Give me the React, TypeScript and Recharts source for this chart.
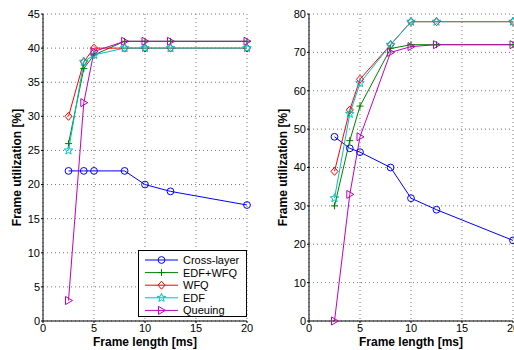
import { LineChart, Line, XAxis, YAxis, CartesianGrid } from 'recharts';

const frameLength = [2.5, 4, 5, 8, 10, 12.5, 20];

// left panel
const crossLayerA = [22, 22, 22, 22, 20, 19, 17];
const edfWfqA = [26, 37, 39, 41, 41, 41, 41];
const wfqA = [30, 38, 40, 40, 40, 40, 40];
const edfA = [25, 38, 39, 40, 40, 40, 40];
const queuingA = [3, 32, 39.5, 41, 41, 41, 41];

// right panel
const crossLayerB = [48, 45, 44, 40, 32, 29, 21];
const edfWfqB = [30, 47, 56, 71, 72, 72, 72];
const wfqB = [39, 55, 63, 72, 78, 78, 78];
const edfB = [32, 54, 62, 72, 78, 78, 78];
const queuingB = [0, 33, 48, 70, 71.5, 72, 72];

const xTicks = [0, 5, 10, 15, 20];
const yTicksA = [0, 5, 10, 15, 20, 25, 30, 35, 40, 45];
const yTicksB = [0, 10, 20, 30, 40, 50, 60, 70, 80];

const seriesNames = ['Cross-layer', 'EDF+WFQ', 'WFQ', 'EDF', 'Queuing'];
const seriesKeys = ['cross', 'edfWfq', 'wfq', 'edf', 'queuing'];
const seriesColors = ['#0000ff', '#008000', '#ff0000', '#00bfbf', '#bf00bf'];
const seriesShapes = ['circle', 'plus', 'diamond', 'star', 'triangle'];

const font = '"Liberation Sans", Arial, Helvetica, sans-serif';

function Marker({ shape, cx, cy, color }: { shape: string; cx: number; cy: number; color: string }) {
  if (shape === 'circle') {
    return <circle cx={cx} cy={cy} r={3.4} fill="none" stroke={color} strokeWidth={1} />;
  }
  if (shape === 'plus') {
    return (
      <path d={`M${cx - 3.5},${cy}H${cx + 3.5}M${cx},${cy - 3.5}V${cy + 3.5}`} stroke={color} strokeWidth={1} fill="none" />
    );
  }
  if (shape === 'diamond') {
    return (
      <path d={`M${cx},${cy - 4}L${cx + 3.5},${cy}L${cx},${cy + 4}L${cx - 3.5},${cy}Z`} stroke={color} strokeWidth={1} fill="none" />
    );
  }
  if (shape === 'star') {
    const pts: string[] = [];
    for (let i = 0; i < 10; i++) {
      const r = i % 2 === 0 ? 4.5 : 1.9;
      const a = -Math.PI / 2 + (i * Math.PI) / 5;
      pts.push(`${cx + r * Math.cos(a)},${cy + r * Math.sin(a)}`);
    }
    return <polygon points={pts.join(' ')} stroke={color} strokeWidth={1} fill="none" />;
  }
  return (
    <path d={`M${cx + 4},${cy}L${cx - 3},${cy - 4}L${cx - 3},${cy + 4}Z`} stroke={color} strokeWidth={1} fill="none" />
  );
}

const dotFor = (shape: string, color: string) => (props: any) => {
  const { cx, cy, index } = props;
  if (cx == null || cy == null) return <g key={index} />;
  return (
    <g key={index}>
      <Marker shape={shape} cx={cx} cy={cy} color={color} />
    </g>
  );
};

const tickStyle = { fontSize: 11, fill: '#000', fontFamily: font };

function Panel({ data, yMax, yTicks, yWidth, rightMargin }: any) {
  return (
    <LineChart
      width={260}
      height={350}
      data={data}
      margin={{ top: 14, right: rightMargin, bottom: 0, left: 0 }}
    >
      <CartesianGrid stroke="#777" strokeDasharray="1 3" />
      <XAxis
        dataKey="x"
        type="number"
        domain={[0, 20]}
        ticks={xTicks}
        height={29}
        tickSize={2}
        tickMargin={1}
        tick={tickStyle}
        stroke="#000"
        interval={0}
        label={{
          content: (p: any) => {
            const vb = p.viewBox;
            return (
              <text x={vb.x + vb.width / 2} y={vb.y + 21} textAnchor="middle" dominantBaseline="central"
                style={{ fontSize: 12, fontWeight: 'bold', fontFamily: font }} fill="#000">
                Frame length [ms]
              </text>
            );
          },
        }}
      />
      <XAxis xAxisId="top" dataKey="x" type="number" domain={[0, 20]} orientation="top" height={0} tick={false} tickLine={false} stroke="#000" />
      <YAxis
        type="number"
        domain={[0, yMax]}
        ticks={yTicks}
        width={yWidth}
        tickSize={2}
        tickMargin={1}
        tick={tickStyle}
        stroke="#000"
        interval={0}
        label={{
          content: (p: any) => {
            const vb = p.viewBox;
            const cx = vb.x + vb.width - 26;
            const cy = vb.y + vb.height / 2;
            return (
              <text x={cx} y={cy} transform={`rotate(-90 ${cx} ${cy})`} textAnchor="middle" dominantBaseline="central"
                style={{ fontSize: 12, fontWeight: 'bold', fontFamily: font }} fill="#000">
                Frame utilization [%]
              </text>
            );
          },
        }}
      />
      <YAxis yAxisId="right" type="number" domain={[0, yMax]} orientation="right" width={0} tick={false} tickLine={false} stroke="#000" />
      {seriesKeys.map((k, i) => (
        <Line
          key={k}
          dataKey={k}
          stroke={seriesColors[i]}
          strokeWidth={1}
          dot={dotFor(seriesShapes[i], seriesColors[i])}
          activeDot={false}
          isAnimationActive={false}
          type="linear"
        />
      ))}
    </LineChart>
  );
}

function LegendBox() {
  const rowH = 12.6;
  return (
    <div style={{ position: 'absolute', left: 138, top: 250, width: 109, height: 67, background: '#fff', border: '1px solid #000', boxSizing: 'border-box' }}>
      <svg width={107} height={65}>
        {seriesNames.map((n, i) => {
          const y = 9 + i * rowH;
          return (
            <g key={n}>
              <line x1={6} x2={39} y1={y} y2={y} stroke={seriesColors[i]} strokeWidth={1} />
              <Marker shape={seriesShapes[i]} cx={22.5} cy={y} color={seriesColors[i]} />
              <text x={44} y={y} dominantBaseline="central" style={{ fontSize: 11, fontFamily: font }} fill="#000">{n}</text>
            </g>
          );
        })}
      </svg>
    </div>
  );
}

const dataA = frameLength.map((x, i) => ({
  x, cross: crossLayerA[i], edfWfq: edfWfqA[i], wfq: wfqA[i], edf: edfA[i], queuing: queuingA[i],
}));
const dataB = frameLength.map((x, i) => ({
  x, cross: crossLayerB[i], edfWfq: edfWfqB[i], wfq: wfqB[i], edf: edfB[i], queuing: queuingB[i],
}));

export default function App() {
  return (
    <div style={{ position: 'absolute', left: 0, top: 0, width: 514, height: 350, overflow: 'hidden', background: '#fff' }}>
      <div style={{ position: 'absolute', left: 0, top: 0 }}>
        <Panel data={dataA} yMax={45} yTicks={yTicksA} yWidth={43} rightMargin={13} />
      </div>
      <div style={{ position: 'absolute', left: 260, top: 0 }}>
        <Panel data={dataB} yMax={80} yTicks={yTicksB} yWidth={49} rightMargin={7} />
      </div>
      <LegendBox />
    </div>
  );
}
